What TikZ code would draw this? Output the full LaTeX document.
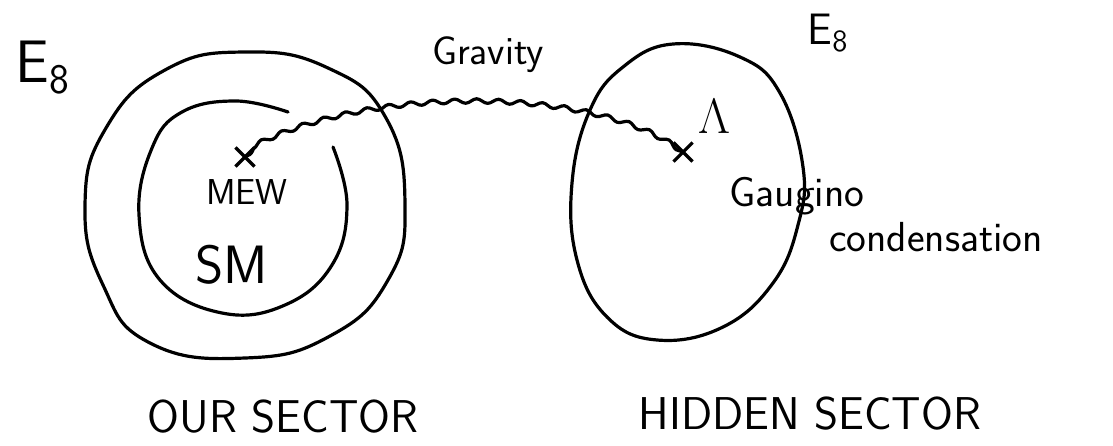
\documentclass[tikz,border=0pt]{standalone}
\usepackage{amsmath,amssymb}
\usepackage{tikz}
\usetikzlibrary{decorations.pathmorphing,shapes.misc}

\tikzset{
  sketch/.style={line width=1.6pt,line cap=round,line join=round},
  xmark/.style={cross out,draw,line width=1.6pt,minimum size=8pt,inner sep=0pt},
  hand/.style={font=\sffamily\fontsize{#1}{#1}\selectfont,inner sep=0pt},
  wiggle/.style={sketch,decorate,decoration={snake,amplitude=1.1pt,segment length=11pt}}
}

\begin{document}
\begin{tikzpicture}[x=0.5pt,y=-0.5pt]
\useasboundingbox (0,0) rectangle (1113,445);
% our sector
\draw[sketch] plot[smooth cycle,tension=0.8] coordinates {(405,205) (386,118) (328,68) (245,52) (165,70) (106,128) (85,205) (103,285) (150,343) (245,358) (330,336) (388,280)};
\draw[sketch] plot[smooth,tension=0.7] coordinates {(288,112) (236,101) (182,112) (152,148) (139,215) (160,280) (222,313) (285,305) (332,265) (347,205) (333,147)};
% hidden sector
\draw[sketch] plot[smooth cycle,tension=0.7] coordinates {(673,44) (740,57) (780,93) (803,167) (798,225) (773,283) (723,327) (657,340) (607,317) (577,260) (572,183) (590,110) (623,67)};
\node[xmark] (xmew) at (245,157) {};
\node[xmark] (xlam) at (683,152) {};
\draw[wiggle] (xlam.center) .. controls (590,85) and (350,90) .. (xmew.center);
\node[hand=30] (eleft) at (43,68) {E\textsubscript{8}};
\node[hand=22] (eright) at (828,33) {E\textsubscript{8}};
\node[hand=20] (gravity) at (488,55) {Gravity};
\node[hand=18] (mew) at (247,192) {MEW};
\node[hand=27] (sm) at (232,265) {SM};
\node[font=\fontsize{24}{24}\selectfont,inner sep=0pt] (lambda) at (714,116) {$\Lambda$};
\node[hand=21] (gaugino) at (797,196) {Gaugino};
\node[hand=21] (condens) at (936,237) {condensation};
\node[hand=23] (oursector) at (283,417) {OUR SECTOR};
\node[hand=23] (hiddensector) at (810,414) {HIDDEN SECTOR};
\end{tikzpicture}
\end{document}
